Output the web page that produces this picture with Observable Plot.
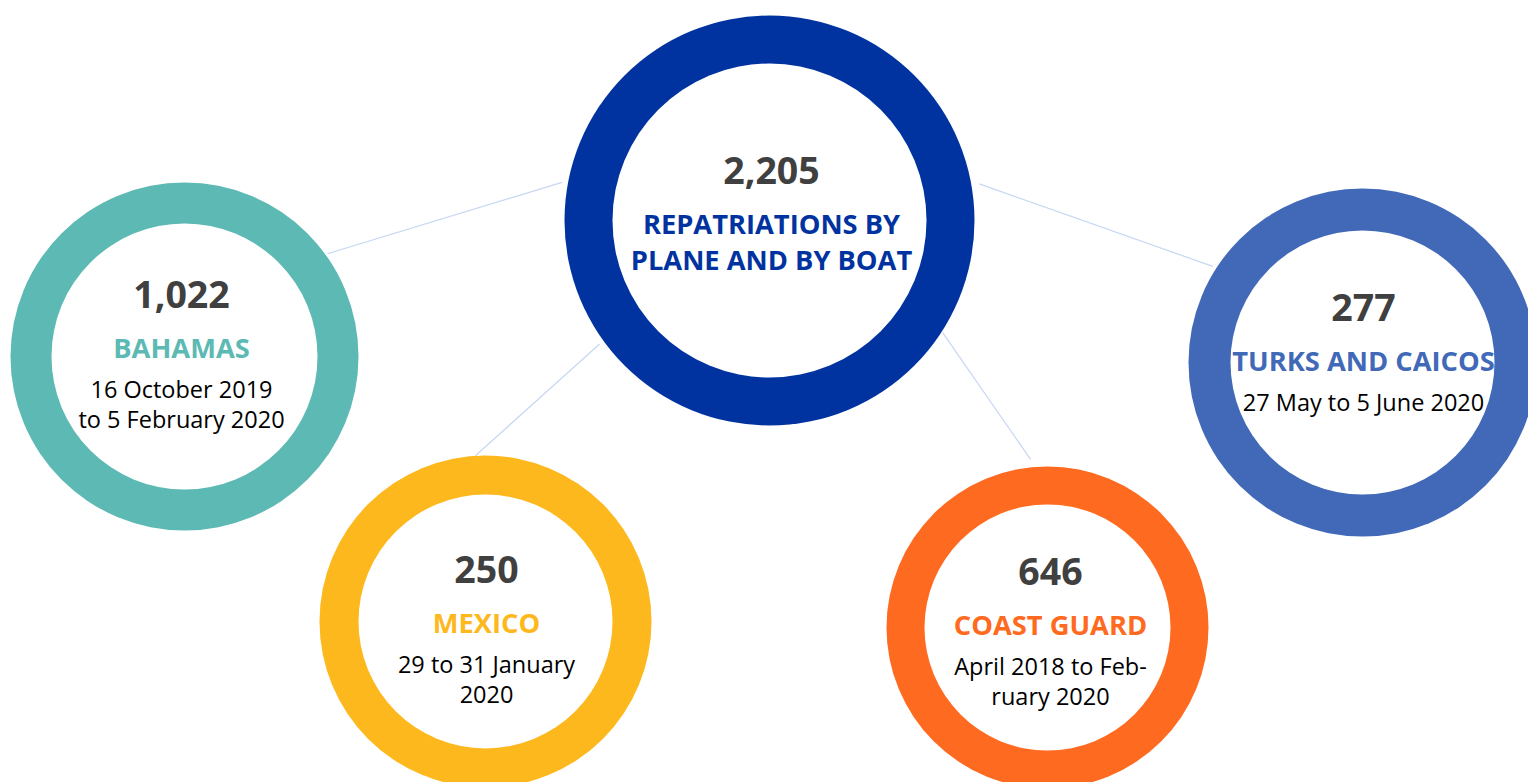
<!DOCTYPE html>
<html>
<head>
<meta charset="utf-8">
<script src="https://cdn.jsdelivr.net/npm/d3@7"></script>
<script src="https://cdn.jsdelivr.net/npm/@observablehq/plot@0.6"></script>
<style>
  html, body { margin: 0; padding: 0; background: #fff; overflow: hidden; }
  #chart svg { display: block; }
</style>
</head>
<body>
<div id="chart"></div>
<script>
// ---- data ----
const names = ["Total", "Bahamas", "Mexico", "Coast Guard", "Turks and Caicos"];
const values = [2205, 1022, 250, 646, 277];
const labels = [
  ["REPATRIATIONS BY", "PLANE AND BY BOAT"],
  ["BAHAMAS"],
  ["MEXICO"],
  ["COAST GUARD"],
  ["TURKS AND CAICOS"]
];
const periods = [
  [],
  ["16 October 2019", "to 5 February 2020"],
  ["29 to 31 January", "2020"],
  ["April 2018 to Feb-", "ruary 2020"],
  ["27 May to 5 June 2020"]
];

// ---- layout & style (not data) ----
const colors = ["#0033a0", "#5db9b3", "#fdb81e", "#ff6a21", "#4169b8"];
const layout = [
  {cx: 769, cy: 220, outer: 205, inner: 157, tx: 771, ty: 183},
  {cx: 184, cy: 356, outer: 174, inner: 133, tx: 181, ty: 307},
  {cx: 485, cy: 621, outer: 166, inner: 127, tx: 486, ty: 582},
  {cx: 1047, cy: 627, outer: 161, inner: 123, tx: 1050, ty: 584},
  {cx: 1362, cy: 362, outer: 174, inner: 132, tx: 1363, ty: 320}
];
// connectors: [from circle, angle (deg), gap], [to circle, angle, gap]
const connectors = [
  [[1, -35.7, 2], [0, 190.4, 6]],
  [[2, -93.5, 0], [0, 144.0, 5]],
  [[0, -9.9, 8], [4, -147.3, 4]],
  [[0, 32.9, 1], [3, -95.75, 8]]
];

const W = 1528, H = 782;
const fmt = d3.format(",");
const circles = names.map((n, i) => ({name: n, ...layout[i]}));
const pt = ([i, a, g]) => {
  const c = layout[i], rad = a * Math.PI / 180, r = c.outer + g;
  return [c.cx + r * Math.cos(rad), c.cy + r * Math.sin(rad)];
};
const links = connectors.map(([f, t]) => {
  const [x1, y1] = pt(f), [x2, y2] = pt(t);
  return {x1, y1, x2, y2};
});

const numberRows = names.map((n, i) => ({name: n, x: layout[i].tx, y: layout[i].ty, text: fmt(values[i])}));
const labelRows = [];
const periodRows = [];
names.forEach((n, i) => {
  labels[i].forEach((t, k) => labelRows.push({name: n, x: layout[i].tx, y: layout[i].ty + 50 + k * 36, text: t}));
  periods[i].forEach((t, k) => periodRows.push({name: n, x: layout[i].tx, y: layout[i].ty + 90 + k * 30, text: t}));
});

const font = "'Open Sans', 'Noto Sans', sans-serif";

const chart = Plot.plot({
  width: W,
  height: H,
  margin: 0,
  style: {background: "#fff", fontFamily: font},
  x: {type: "identity", axis: null},
  y: {type: "identity", axis: null},
  r: {type: "identity"},
  color: {type: "ordinal", domain: names, range: colors},
  marks: [
    Plot.link(links, {x1: "x1", y1: "y1", x2: "x2", y2: "y2", stroke: "#c6d7f2", strokeWidth: 1.2}),
    Plot.dot(circles, {x: "cx", y: "cy", r: "outer", fill: "name", stroke: null}),
    Plot.dot(circles, {x: "cx", y: "cy", r: "inner", fill: "#ffffff", stroke: null}),
    Plot.text(numberRows, {x: "x", y: "y", text: "text", lineAnchor: "bottom", fontSize: 37.5, fontWeight: "bold", fill: "#404040", fontFamily: font}),
    Plot.text(labelRows, {x: "x", y: "y", text: "text", lineAnchor: "bottom", fontSize: 27.3, fontWeight: "bold", fill: "name", fontFamily: font}),
    Plot.text(periodRows, {x: "x", y: "y", text: "text", lineAnchor: "bottom", fontSize: 23.5, fill: "#000", fontFamily: font})
  ]
});
document.getElementById("chart").appendChild(chart);
</script>
</body>
</html>
